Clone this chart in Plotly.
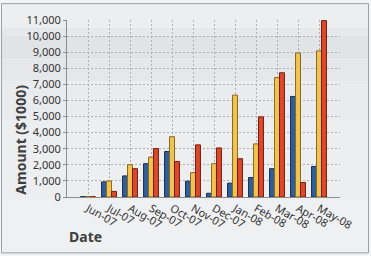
import plotly.graph_objects as go

months = ["Jun-07", "Jul-07", "Aug-07", "Sep-07", "Oct-07", "Nov-07",
          "Dec-07", "Jan-08", "Feb-08", "Mar-08", "Apr-08", "May-08"]
series_blue = [25, 940, 1310, 2070, 2830, 980, 230, 860, 1210, 1760, 6250, 1900]
series_yellow = [20, 1000, 2010, 2480, 3750, 1520, 2070, 6330, 3300, 7420, 8950, 9080]
series_red = [15, 350, 1760, 3010, 2210, 3240, 3050, 2380, 4980, 7720, 900, 10960]
y_ticks = list(range(0, 11001, 1000))

W, H = 371, 256
L, R, T, B = 67, 31, 18, 59
pw, ph = W - L - R, H - T - B


def px(x):
    return (x - L) / pw


def py(y):
    return (H - B - y) / ph


fig = go.Figure()
for vals, fill, edge in [(series_blue, "#2f5e98", "#1a2f50"),
                         (series_yellow, "#f1c452", "#8a6a22"),
                         (series_red, "#da4a2a", "#7a1a0c")]:
    fig.add_trace(go.Bar(x=months, y=vals, marker=dict(color=fill, line=dict(color=edge, width=1)),
                         showlegend=False))

shapes = []
# background vertical gradient (glass look)
bands = [(0, 26, "#eceef0"), (26, 34, "#e6e8eb"), (34, 58, "#e1e4e7"), (58, 80, "#e5e7ea"),
         (80, 120, "#e9ebee"), (120, 200, "#eceef0"), (200, 256, "#eff0f2")]
for y0, y1, c in bands:
    shapes.append(dict(type="rect", xref="paper", yref="paper", x0=px(1), x1=px(W - 2),
                       y0=py(y1), y1=py(y0), fillcolor=c, line=dict(width=0), layer="below"))
# border
shapes.append(dict(type="rect", xref="paper", yref="paper", x0=px(1.5), x1=px(W - 2.5),
                   y0=py(H - 2.5), y1=py(1.5),
                   line=dict(color="#9ea2a6", width=1), fillcolor="rgba(0,0,0,0)", layer="above"))

fig.update_layout(
    width=W, height=H,
    margin=dict(l=L, r=R, t=T, b=B),
    paper_bgcolor="#f4f5f6",
    plot_bgcolor="rgba(0,0,0,0)",
    barmode="group", bargap=0.29, bargroupgap=0,
    font=dict(family="Noto Sans, Liberation Sans, sans-serif", size=11, color="#333333"),
    shapes=shapes,
    xaxis=dict(type="category", range=[-1, 12], tickangle=30,
               showline=True, linecolor="#8c8c8c", linewidth=1,
               showgrid=True, gridcolor="#b0b0b0", griddash="2px,2px", gridwidth=1,
               ticks="", tickfont=dict(size=11, color="#333333")),
    yaxis=dict(range=[0, 11000], tickvals=y_ticks, tickformat=",",
               showline=True, linecolor="#8c8c8c", linewidth=1,
               ticks="outside", ticklen=3, tickcolor="#8c8c8c",
               showgrid=True, gridcolor="#b0b0b0", griddash="2px,2px", gridwidth=1,
               zeroline=False, tickfont=dict(size=11, color="#333333")),
    annotations=[
        dict(text="<b>Amount ($1000)</b>", xref="paper", yref="paper", x=px(21), y=py(139),
             xanchor="center", yanchor="middle",
             textangle=-90, showarrow=False, font=dict(size=14, color="#404040")),
        dict(text="<b>Date</b>", xref="paper", yref="paper", x=px(67), y=py(237),
             xanchor="left", yanchor="middle", showarrow=False, font=dict(size=14, color="#404040")),
    ],
)

fig.write_html("out.html")
